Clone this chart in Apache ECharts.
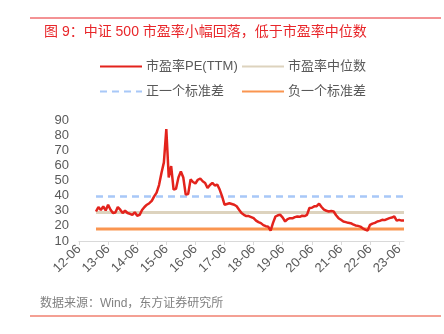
<!DOCTYPE html>
<html><head><meta charset="utf-8">
<script src="https://cdn.jsdelivr.net/npm/echarts@6/dist/echarts.min.js"></script>
<style>html,body{margin:0;padding:0;background:#fff}#c{width:444px;height:334px}</style>
</head><body><div id="c"></div>
<script>
// Monthly categories 2012-06 .. 2023-08
const categories = [];
for (let y = 2012, mo = 6; y < 2023 || (y === 2023 && mo <= 8); ) {
  categories.push(String(y).slice(2) + '-' + String(mo).padStart(2, '0'));
  mo++; if (mo > 12) { mo = 1; y++; }
}
const firstDataIndex = 7; // 13-01
// PE(TTM), monthly from 2013-01
const peValues = [
  29.5, 32.4, 30.5, 32.8, 30.2, 34.0, 30.7, 28.5, 28.8, 32.4, 30.7, 28.5,
  30.0, 28.5, 28.0, 27.3, 29.0, 26.7, 27.3, 30.5, 32.5, 34.0, 35.0, 36.5,
  39.5, 42.0, 47.0, 55.0, 62.0, 84.0, 52.0, 59.5, 44.0, 44.5, 52.0, 56.0,
  52.0, 40.7, 41.0, 50.7, 49.0, 48.0, 50.5, 51.3, 49.5, 48.4, 45.0, 47.0,
  48.4, 46.7, 47.3, 44.0, 39.5, 34.0, 34.5, 35.0, 34.5, 34.0, 33.0, 30.7,
  28.5, 27.3, 26.5, 26.5, 25.8, 25.1, 23.5, 22.5, 21.8, 20.5, 19.8, 19.5,
  16.9, 22.0, 26.2, 27.0, 27.3, 25.5, 22.9, 24.5, 25.1, 25.0, 25.8, 26.2,
  26.0, 26.7, 26.5, 27.3, 31.8, 32.0, 32.9, 33.0, 34.7, 32.5, 30.7, 30.0,
  29.5, 29.8, 29.5, 27.0, 25.1, 24.0, 22.9, 22.5, 22.0, 21.8, 21.0, 20.3,
  20.0, 19.5, 18.4, 17.5, 16.9, 20.7, 21.5, 22.0, 22.9, 23.3, 24.0, 23.8,
  24.5, 25.1, 25.5, 26.2, 23.5, 24.0, 23.5, 23.5
];
const medianValue = 28.8;
const plusStdValue = 39.5;
const minusStdValue = 18.0;
const yTicks = [10, 20, 30, 40, 50, 60, 70, 80, 90];

const peSeries = categories.map((c, i) => (i >= firstDataIndex && i - firstDataIndex < peValues.length) ? peValues[i - firstDataIndex] : null);
const constSeries = v => categories.map((c, i) => i >= firstDataIndex ? v : null);

const names = ['市盈率PE(TTM)', '市盈率中位数', '正一个标准差', '负一个标准差'];
const font = '"Liberation Sans", Arial, "Noto Sans CJK SC", sans-serif';
const legendBase = { itemWidth: 42, itemHeight: 14, itemGap: 0, itemStyle: { opacity: 0 }, textStyle: { color: '#595959', fontSize: 13, fontFamily: font, padding: [0, 0, 0, -1] }, padding: 0 };

const chart = echarts.init(document.getElementById('c'), null, { renderer: 'canvas' });
chart.setOption({
  animation: false,
  backgroundColor: '#fff',
  textStyle: { fontFamily: font },
  title: {
    text: '图 9：中证 500 市盈率小幅回落，低于市盈率中位数',
    left: 39, top: 20,
    textStyle: { color: '#e8262a', fontSize: 14, fontWeight: 'normal', fontFamily: font }
  },
  graphic: [
    { type: 'line', shape: { x1: 30, y1: 18, x2: 441, y2: 18 }, style: { stroke: '#e8262a', lineWidth: 1 } },
    { type: 'line', shape: { x1: 30, y1: 316, x2: 441, y2: 316 }, style: { stroke: '#f08070', lineWidth: 1.5 } },
    { type: 'text', left: 40, top: 298, style: { text: '数据来源：Wind，东方证券研究所', fill: '#808080', font: '12px ' + font } }
  ],
  legend: [
    Object.assign({ data: [names[0]], left: 99, top: 60 }, legendBase),
    Object.assign({ data: [names[1]], left: 241, top: 60 }, legendBase),
    Object.assign({ data: [names[2]], left: 99, top: 85 }, legendBase),
    Object.assign({ data: [names[3]], left: 241, top: 85 }, legendBase)
  ],
  grid: { left: 79, right: 40, top: 120, bottom: 93, containLabel: false },
  xAxis: {
    type: 'category', data: categories, boundaryGap: false,
    axisLine: { lineStyle: { color: '#d9d9d9', width: 1 } },
    axisTick: { interval: 11, length: 4, lineStyle: { color: '#d9d9d9' } },
    axisLabel: { interval: 11, rotate: 45, color: '#595959', fontSize: 13, margin: 6 },
    splitLine: { show: false }
  },
  yAxis: {
    type: 'value', min: 10, max: 90, interval: 10,
    axisLine: { show: false }, axisTick: { show: false },
    splitLine: { show: false },
    axisLabel: { color: '#595959', fontSize: 13, margin: 10, formatter: v => yTicks.includes(v) ? String(v) : '' }
  },
  series: [
    { name: names[0], type: 'line', data: peSeries, symbol: 'none', lineStyle: { color: '#e3231c', width: 2.5 }, itemStyle: { color: '#e3231c' }, z: 5 },
    { name: names[1], type: 'line', data: constSeries(medianValue), symbol: 'none', lineStyle: { color: '#ddd3be', width: 3 }, itemStyle: { color: '#ddd3be' }, z: 3 },
    { name: names[2], type: 'line', data: constSeries(plusStdValue), symbol: 'none', lineStyle: { color: '#a8c8f8', width: 2.5, type: [7, 5] }, itemStyle: { color: '#a8c8f8' }, z: 3 },
    { name: names[3], type: 'line', data: constSeries(minusStdValue), symbol: 'none', lineStyle: { color: '#fa9550', width: 3 }, itemStyle: { color: '#fa9550' }, z: 3 }
  ]
});
</script></body></html>
